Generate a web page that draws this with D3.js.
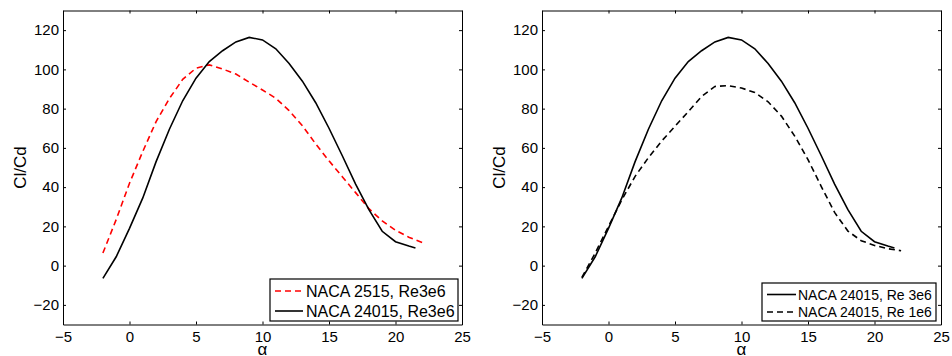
<!DOCTYPE html>
<html>
  <head>
    <title>Cl/Cd vs alpha</title>
    <script src="https://d3js.org/d3.v7.min.js"></script>
    <style>
      body { margin: 0; background: #fff; }
      svg { display: block; font-family: "Liberation Sans", Arial, sans-serif; }
      .tick line { stroke: #000; }
      .domain { stroke: #000; }
    </style>
  </head>
  <body>
    <svg width="952" height="356"></svg>
    <script>
      // Angle of attack (deg) and Cl/Cd values
      const alpha24015 = [-2, -1, 0, 1, 2, 3, 4, 5, 6, 7, 8, 9, 10, 11, 12, 13, 14, 15, 16, 17, 18, 19, 20, 21, 21.5];
      const naca24015Re3e6 = [-6.5, 4.5, 19, 34.5, 53, 69.5, 84, 95.5, 104, 109.5, 114, 116.3, 115, 110.5, 103, 94, 83, 70, 56, 41.5, 28.5, 17.5, 12.2, 10, 9];

      const alpha2515 = [-2, -1, 0, 1, 2, 3, 4, 5, 6, 7, 8, 9, 10, 11, 12, 13, 14, 15, 16, 17, 18, 19, 20, 21, 22];
      const naca2515Re3e6 = [6.4, 23.5, 42, 58.2, 73.4, 85.1, 94.9, 100.6, 102.3, 100.2, 97.6, 93.5, 89.5, 85.3, 79, 71.3, 62, 53.4, 45.3, 37.2, 29, 22.8, 18, 14.5, 11.8];

      const alpha24015Re1e6 = [-2, -1, 0, 1, 2, 3, 4, 5, 6, 7, 8, 9, 10, 11, 12, 13, 14, 15, 16, 17, 18, 19, 20, 21, 22];
      const naca24015Re1e6 = [-6, 6.4, 20, 33.5, 45.5, 55, 63.5, 71, 78.5, 86.2, 91.3, 91.7, 90.5, 88.2, 83.5, 76.2, 66, 54, 40.3, 27.1, 17.6, 12.7, 10.3, 8.6, 7.6];

      const xTicks = [-5, 0, 5, 10, 15, 20, 25];
      const yTicks = [-20, 0, 20, 40, 60, 80, 100, 120];

      const panels = [
        {
          left: 63, right: 462,
          series: [
            { xs: alpha2515, ys: naca2515Re3e6, color: "#ff0000", dash: "6,4", label: "NACA 2515, Re3e6" },
            { xs: alpha24015, ys: naca24015Re3e6, color: "#000", dash: null, label: "NACA 24015, Re3e6" }
          ],
          legend: { x: 270, y: 279, w: 188, h: 42, font: 16, line: [5, 33], text: 36, rows: [291, 311] }
        },
        {
          left: 542, right: 941,
          series: [
            { xs: alpha24015, ys: naca24015Re3e6, color: "#000", dash: null, label: "NACA 24015, Re 3e6" },
            { xs: alpha24015Re1e6, ys: naca24015Re1e6, color: "#000", dash: "6,4", label: "NACA 24015, Re 1e6" }
          ],
          legend: { x: 762, y: 283, w: 174, h: 38, font: 14, line: [5, 34], text: 36, rows: [294.5, 312] }
        }
      ];

      const plotTop = 10.5, plotBottom = 324.5;
      const svg = d3.select("svg");

      panels.forEach(p => {
        const x = d3.scaleLinear().domain([-5, 25]).range([p.left, p.right]);
        const y = d3.scaleLinear().domain([-30, 130]).range([plotBottom, plotTop]);
        const g = svg.append("g");

        // axes (ticks point inward, box on all four sides)
        g.append("g")
          .attr("transform", `translate(0,${plotBottom})`)
          .call(d3.axisBottom(x).tickValues(xTicks).tickSize(-3).tickSizeOuter(0).tickPadding(7));
        g.append("g")
          .attr("transform", `translate(0,${plotTop})`)
          .call(d3.axisTop(x).tickValues(xTicks).tickSize(-3).tickSizeOuter(0).tickFormat(""));
        g.append("g")
          .attr("transform", `translate(${p.left},0)`)
          .call(d3.axisLeft(y).tickValues(yTicks).tickSize(-3).tickSizeOuter(0).tickPadding(4));
        g.append("g")
          .attr("transform", `translate(${p.right},0)`)
          .call(d3.axisRight(y).tickValues(yTicks).tickSize(-3).tickSizeOuter(0).tickFormat(""));

        g.selectAll(".tick text")
          .attr("font-size", 15)
          .attr("font-family", "Liberation Sans, Arial, sans-serif")
          .attr("fill", "#000");

        // axis labels
        g.append("text")
          .attr("transform", `translate(${p.left - 37},${(plotTop + plotBottom) / 2}) rotate(-90)`)
          .attr("text-anchor", "middle")
          .attr("font-size", 17)
          .text("Cl/Cd");
        g.append("text")
          .attr("x", (p.left + p.right) / 2)
          .attr("y", 355)
          .attr("text-anchor", "middle")
          .attr("font-size", 17)
          .text("α");

        // curves
        const line = d3.line().x(d => x(d[0])).y(d => y(d[1]));
        p.series.forEach(s => {
          g.append("path")
            .datum(s.xs.map((v, i) => [v, s.ys[i]]))
            .attr("fill", "none")
            .attr("stroke", s.color)
            .attr("stroke-width", 1.6)
            .attr("stroke-dasharray", s.dash)
            .attr("d", line);
        });

        // legend
        const L = p.legend;
        const lg = g.append("g");
        lg.append("rect")
          .attr("x", L.x).attr("y", L.y).attr("width", L.w).attr("height", L.h)
          .attr("fill", "#fff").attr("stroke", "#000").attr("stroke-width", 1.2);
        p.series.forEach((s, i) => {
          lg.append("line")
            .attr("x1", L.x + L.line[0]).attr("x2", L.x + L.line[1])
            .attr("y1", L.rows[i]).attr("y2", L.rows[i])
            .attr("stroke", s.color).attr("stroke-width", 1.6)
            .attr("stroke-dasharray", s.dash);
          lg.append("text")
            .attr("x", L.x + L.text).attr("y", L.rows[i])
            .attr("dy", "0.36em")
            .attr("font-size", L.font)
            .text(s.label);
        });
      });
    </script>
  </body>
</html>
